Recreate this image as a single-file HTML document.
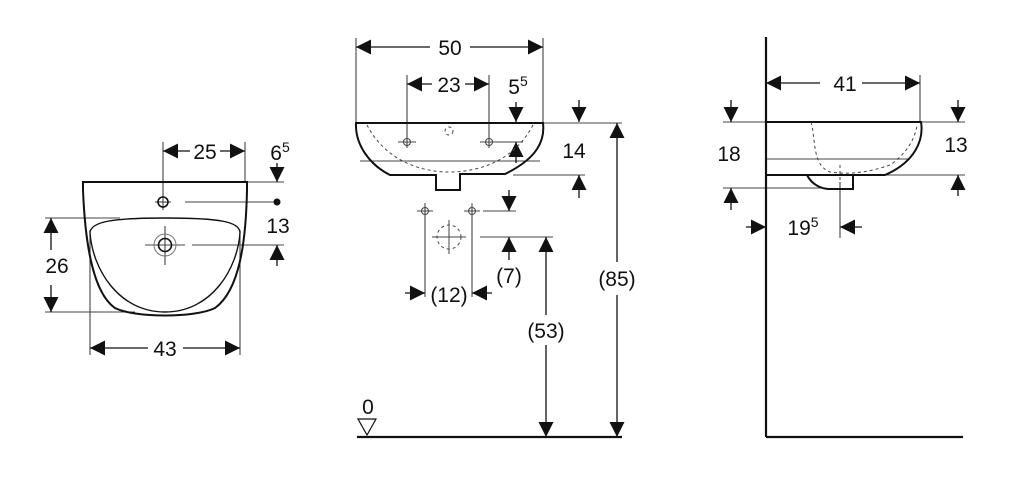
<!DOCTYPE html>
<html><head><meta charset="utf-8"><style>
html,body{margin:0;padding:0;background:#fff;}
svg{display:block;}
text{font-family:"Liberation Sans",sans-serif;font-size:21px;fill:#111;}
</style></head><body>
<svg width="1024" height="494" viewBox="0 0 1024 494" xmlns="http://www.w3.org/2000/svg">
<defs>
<marker id="a" viewBox="0 0 10 10" refX="10" refY="5" markerWidth="15" markerHeight="15" markerUnits="userSpaceOnUse" orient="auto"><path d="M0,0 L10,5 L0,10 z" fill="#111"/></marker>
</defs>
<g stroke="#444" stroke-width="1.1" fill="none">
<line x1="163" y1="142" x2="163" y2="196"/>
<line x1="245" y1="142" x2="245" y2="182"/>
<line x1="247" y1="182" x2="284" y2="182"/>
<line x1="185" y1="202" x2="277" y2="202"/>
<line x1="192" y1="245" x2="284" y2="245"/>
<line x1="45" y1="218" x2="120" y2="218"/>
<line x1="45" y1="312" x2="135" y2="312"/>
<line x1="90" y1="230" x2="90" y2="355"/>
<line x1="240" y1="230" x2="240" y2="355"/>
<line x1="155" y1="202" x2="171" y2="202"/>
<line x1="163" y1="194" x2="163" y2="210"/>
<line x1="145" y1="245" x2="185" y2="245"/>
<line x1="165" y1="226" x2="165" y2="265"/>
<line x1="356" y1="38" x2="356" y2="122"/>
<line x1="543" y1="38" x2="543" y2="122"/>
<line x1="407" y1="75" x2="407" y2="148"/>
<line x1="489" y1="75" x2="489" y2="148"/>
<line x1="543" y1="123" x2="622" y2="123"/>
<line x1="492" y1="142" x2="523" y2="142"/>
<line x1="513" y1="175" x2="585" y2="175"/>
<line x1="483" y1="211" x2="516" y2="211"/>
<line x1="480" y1="237" x2="553" y2="237"/>
<line x1="425" y1="205" x2="425" y2="297"/>
<line x1="472" y1="205" x2="472" y2="297"/>
<line x1="360" y1="161" x2="540" y2="161"/>
<line x1="920" y1="75" x2="920" y2="122"/>
<line x1="723" y1="122" x2="766" y2="122"/>
<line x1="921" y1="122" x2="965" y2="122"/>
<line x1="860" y1="175" x2="965" y2="175"/>
<line x1="723" y1="188" x2="826" y2="188"/>
<line x1="840" y1="182" x2="840" y2="238"/>
<line x1="766" y1="159" x2="908" y2="159"/>
</g>
<g stroke="#111" stroke-width="1.3" fill="none" marker-end="url(#a)">
<line x1="190" y1="151" x2="163" y2="151"/><line x1="220" y1="151" x2="245" y2="151"/>
<line x1="277" y1="163" x2="277" y2="182"/>
<line x1="277" y1="266" x2="277" y2="245"/>
<line x1="51" y1="250" x2="51" y2="218"/><line x1="51" y1="285" x2="51" y2="312"/>
<line x1="148" y1="348" x2="90" y2="348"/><line x1="183" y1="348" x2="240" y2="348"/>
<line x1="430" y1="47" x2="356" y2="47"/><line x1="470" y1="47" x2="543" y2="47"/>
<line x1="432" y1="84" x2="407" y2="84"/><line x1="465" y1="84" x2="489" y2="84"/>
<line x1="516" y1="102" x2="516" y2="122"/>
<line x1="516" y1="163" x2="516" y2="142"/>
<line x1="579" y1="100" x2="579" y2="122"/>
<line x1="579" y1="198" x2="579" y2="175"/>
<line x1="509" y1="190" x2="509" y2="211"/>
<line x1="509" y1="260" x2="509" y2="237"/>
<line x1="405" y1="293" x2="425" y2="293"/><line x1="492" y1="293" x2="472" y2="293"/>
<line x1="617" y1="262" x2="617" y2="123"/><line x1="617" y1="295" x2="617" y2="437"/>
<line x1="546" y1="315" x2="546" y2="237"/><line x1="546" y1="345" x2="546" y2="437"/>
<line x1="820" y1="83" x2="766" y2="83"/><line x1="862" y1="83" x2="920" y2="83"/>
<line x1="731" y1="100" x2="731" y2="122"/>
<line x1="731" y1="210" x2="731" y2="188"/>
<line x1="958" y1="100" x2="958" y2="122"/>
<line x1="958" y1="196" x2="958" y2="175"/>
<line x1="746" y1="227" x2="766" y2="227"/><line x1="862" y1="227" x2="840" y2="227"/>
</g>
<g stroke="#111" stroke-width="2" fill="none">
<path d="M83,182 L247,182 L247,190 C246,240 240,290 215,308 C195,318 135,318 115,308 C92,292 85,240 83,190 Z"/>
<path d="M90,232 C92,222 110,218 165,218 C222,218 238,222 240,232 C238,268 212,312 165,312 C118,312 92,268 90,232 Z" stroke-width="1.4"/>
<circle cx="163" cy="202" r="5" stroke-width="1.6"/>
<circle cx="165" cy="245" r="6.5" stroke-width="1.6"/>
<circle cx="165" cy="245" r="11" stroke-width="1" stroke="#777"/>
<path d="M356,123 L543,123 C545,140 538,158 505,174 L460,174 L460,190 L436,190 L436,175 L390,175 C370,165 355,145 356,123 Z"/>
<line x1="766" y1="37" x2="766" y2="437" stroke-width="2.2"/>
<line x1="766" y1="437" x2="963" y2="437" stroke-width="2.2"/>
<line x1="357" y1="437" x2="622" y2="437" stroke-width="2.2"/>
<path d="M766,122 L921,122 C924,140 915,162 885,175 L766,175"/>
<path d="M807,175 C812,185 822,189 829,189 L853,189 L853,175"/>
</g>
<g stroke="#444" stroke-width="1" fill="none" stroke-dasharray="3,3">
<path d="M367,125 C385,160 420,172 449,172 C480,172 515,160 533,125"/>
<circle cx="449" cy="131" r="4"/>
<circle cx="449" cy="237" r="12"/>
<path d="M811,122 C816,140 812,165 830,172 C850,175 870,172 890,165 C905,155 915,140 917,125"/>
<line x1="840" y1="165" x2="840" y2="188"/>
</g>
<g stroke="#444" stroke-width="1" fill="none">
<line x1="398" y1="142" x2="416" y2="142"/><circle cx="407" cy="142" r="3.5"/>
<line x1="480" y1="142" x2="498" y2="142"/><circle cx="489" cy="142" r="3.5"/>
<line x1="425" y1="203" x2="425" y2="220"/><line x1="417" y1="211" x2="433" y2="211"/><circle cx="425" cy="211" r="3.5"/>
<line x1="472" y1="203" x2="472" y2="220"/><line x1="464" y1="211" x2="480" y2="211"/><circle cx="472" cy="211" r="3.5"/>
<line x1="432" y1="237" x2="466" y2="237"/><line x1="449" y1="220" x2="449" y2="254"/>
<path d="M358,419 L376,419 L367,435 Z" stroke="#111" stroke-width="1.2"/>
</g>
<circle cx="277" cy="202" r="3.5" fill="#111"/>
<g text-anchor="middle">
<text x="205" y="159">25</text>
<text x="280" y="160">6<tspan font-size="14" dy="-8">5</tspan></text>
<text x="278" y="233">13</text>
<text x="57" y="273">26</text>
<text x="165" y="356">43</text>
<text x="450" y="55">50</text>
<text x="449" y="92">23</text>
<text x="518" y="94">5<tspan font-size="14" dy="-8">5</tspan></text>
<text x="574" y="158">14</text>
<text x="509" y="283">(7)</text>
<text x="449" y="302">(12)</text>
<text x="617" y="286">(85)</text>
<text x="546" y="338">(53)</text>
<text x="368" y="414">0</text>
<text x="845" y="91">41</text>
<text x="729" y="161">18</text>
<text x="956" y="152">13</text>
<text x="803" y="235">19<tspan font-size="14" dy="-8">5</tspan></text>
</g>
</svg>
</body></html>
